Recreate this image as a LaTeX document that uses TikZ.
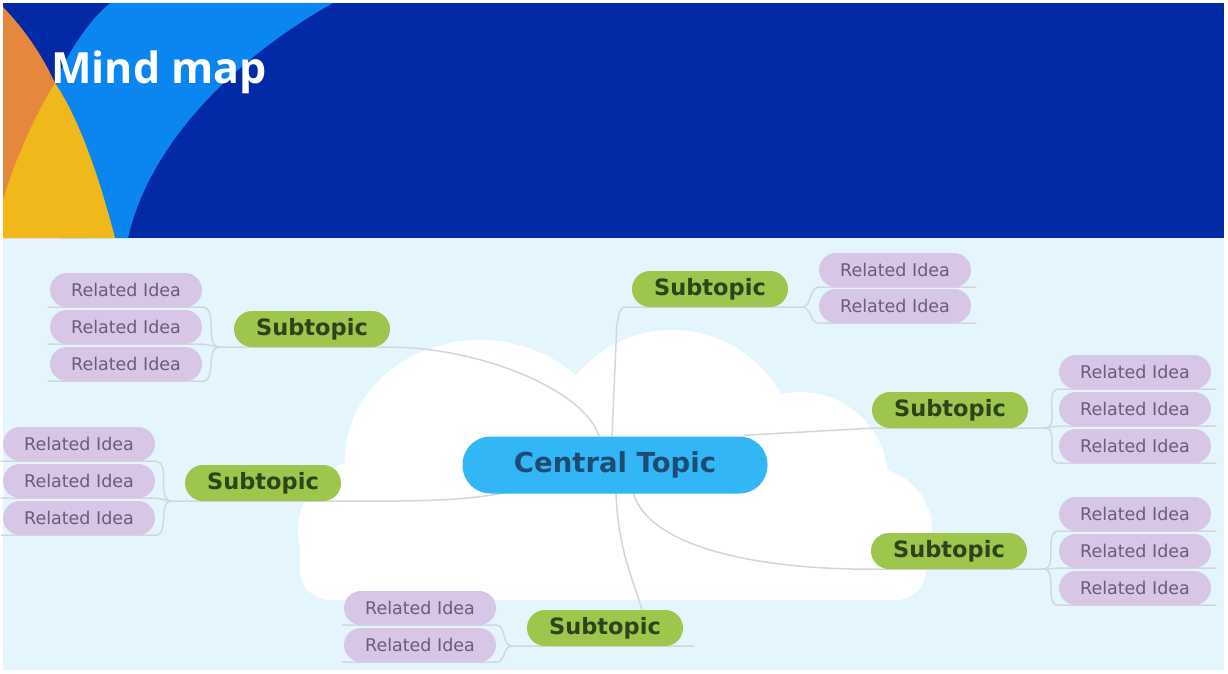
\documentclass[tikz,border=0pt]{standalone}
\usepackage{fontspec}
\setmainfont{DejaVu Sans}
\newfontfamily\titlefont{Open Sans}
\usetikzlibrary{calc}
\pgfdeclarelayer{back}
\pgfdeclarelayer{mid}
\pgfsetlayers{back,mid,main}
\definecolor{darkblue}{HTML}{022AA6}
\definecolor{bandblue}{HTML}{0B86F1}
\definecolor{orangec}{HTML}{E5883D}
\definecolor{yellowc}{HTML}{F1B81C}
\definecolor{bgblue}{HTML}{E4F5FD}
\definecolor{centralblue}{HTML}{33B6F6}
\definecolor{centraltext}{HTML}{1D4B73}
\definecolor{subgreen}{HTML}{9EC54C}
\definecolor{subtext}{HTML}{2C4419}
\definecolor{ideapurple}{HTML}{D7C6E6}
\definecolor{ideatext}{HTML}{6B5E7A}
\definecolor{linegray}{HTML}{D3D7DB}
\begin{document}
\begin{tikzpicture}[x=1pt,y=-1pt,
  central/.style={fill=centralblue, text=centraltext, rounded corners=28pt, minimum width=305pt, minimum height=57pt, inner sep=0pt, font=\fontsize{27.5}{27.5}\selectfont\bfseries},
  sub/.style={fill=subgreen, text=subtext, rounded corners=18pt, minimum width=156pt, minimum height=36pt, inner sep=0pt, font=\fontsize{22.5}{22.5}\selectfont\bfseries},
  idea/.style={fill=ideapurple, text=ideatext, rounded corners=17pt, minimum width=152pt, minimum height=34pt, inner sep=0pt, font=\fontsize{17.5}{17.5}\selectfont},
  conn/.style={draw=linegray, line width=1.5pt}
]
\useasboundingbox (0,0) rectangle (1228,674);

% ---------- nodes ----------
\node[central] (ct) at (615,465) {Central Topic};
\node[sub] (s1) at (312,329) {Subtopic};
\node[sub] (s2) at (710,289) {Subtopic};
\node[sub] (s3) at (950,410) {Subtopic};
\node[sub] (s4) at (949,551) {Subtopic};
\node[sub] (s5) at (605,628) {Subtopic};
\node[sub] (s6) at (263,483) {Subtopic};

\node[idea] (a1) at (126,290) {Related Idea};
\node[idea] (a2) at (126,327) {Related Idea};
\node[idea] (a3) at (126,364) {Related Idea};
\node[idea] (b1) at (895,270) {Related Idea};
\node[idea] (b2) at (895,306) {Related Idea};
\node[idea] (c1) at (1135,372) {Related Idea};
\node[idea] (c2) at (1135,409) {Related Idea};
\node[idea] (c3) at (1135,446) {Related Idea};
\node[idea] (d1) at (1135,514) {Related Idea};
\node[idea] (d2) at (1135,551) {Related Idea};
\node[idea] (d3) at (1135,588) {Related Idea};
\node[idea] (e1) at (420,608) {Related Idea};
\node[idea] (e2) at (420,645) {Related Idea};
\node[idea] (f1) at (79,444) {Related Idea};
\node[idea] (f2) at (79,481) {Related Idea};
\node[idea] (f3) at (79,518) {Related Idea};

\node[text=white, anchor=base west, inner sep=0pt, font=\titlefont\fontsize{43}{43}\selectfont\bfseries] (title) at (51,84) {Mind map};

\coordinate (j1) at (220,347);
\coordinate (j2) at (802,307);
\coordinate (j3) at (1045,428);
\coordinate (j4) at (1043,569);
\coordinate (j5) at (512,646);
\coordinate (j6) at (172,501);

% ---------- background ----------
\begin{pgfonlayer}{back}
\fill[white] (0,0) rectangle (1228,674);
\fill[darkblue] (3,3) rectangle (1224,238);
\fill[bgblue] (3,238) rectangle (1224,670);
\fill[bandblue] (333,3) .. controls (240,55) and (150,140) .. (128,238) -- (60,238) -- (55,83) .. controls (68,52) and (88,22) .. (110,3) -- cycle;
\fill[orangec] (3,7) .. controls (25,30) and (42,55) .. (55,83) -- (90,238) -- (3,238) -- cycle;
\fill[yellowc] (55,83) .. controls (35,115) and (15,160) .. (3,200) -- (3,238) -- (115,238) .. controls (100,180) and (80,120) .. (55,83) -- cycle;
% cloud
\begin{scope}
\clip (0,238) rectangle (1228,600);
\fill[white] (480,460) ellipse [x radius=135, y radius=120];
\fill[white] (672,455) ellipse [x radius=125, y radius=125];
\fill[white] (800,480) circle (88);
\fill[white] (870,530) circle (62);
\fill[white] (370,530) circle (72);
\fill[white, rounded corners=30pt] (300,505) rectangle (926,600);
\end{scope}
\end{pgfonlayer}

% ---------- connectors ----------
\begin{pgfonlayer}{mid}
\draw[conn] (j1) -- (s1.south east) .. controls ($(s1.south east)+(90,0)$) and ($(ct.north)+(-30,-46)$) .. ($(ct.north)+(-16,0)$);
\draw[conn] (j2) -- (s2.south west) -- ++(-8,0) to[out=180,in=270,looseness=.8] ++(-7,18) -- ($(ct.north)+(-3,0)$);
\draw[conn] ($(ct.north east)+(-24,-1)$) -- (s3.south west) -- (j3);
\draw[conn] ($(ct.south)+(18,-1)$) .. controls ($(ct.south)+(35,55)$) and ($(s4.south west)+(-110,0)$) .. (s4.south west) -- (j4);
\draw[conn] ($(ct.south)+(1,0)$) .. controls ($(ct.south)+(3,55)$) and ($(s5.north)+(28,-30)$) .. ($(s5.north)+(37,0)$);
\draw[conn] (j5) -- ($(s5.south east)+(11,0)$);
\draw[conn] ($(ct.south west)+(42,-1)$) .. controls ($(ct.south west)+(0,8)$) and ($(s6.south east)+(60,0)$) .. (s6.south east) -- (j6);
\foreach \n/\j in {a1/j1,a2/j1,a3/j1,e1/j5,e2/j5,f1/j6,f2/j6,f3/j6}{
  \draw[conn] ($(\n.south west)+(-2,0)$) -- (\n.south east) to[out=0,in=180] (\j);
}
\foreach \n/\j in {b1/j2,b2/j2,c1/j3,c2/j3,c3/j3,d1/j4,d2/j4,d3/j4}{
  \draw[conn] (\j) to[out=0,in=180] (\n.south west) -- ($(\n.south east)+(5,0)$);
}
\end{pgfonlayer}
\end{tikzpicture}
\end{document}
